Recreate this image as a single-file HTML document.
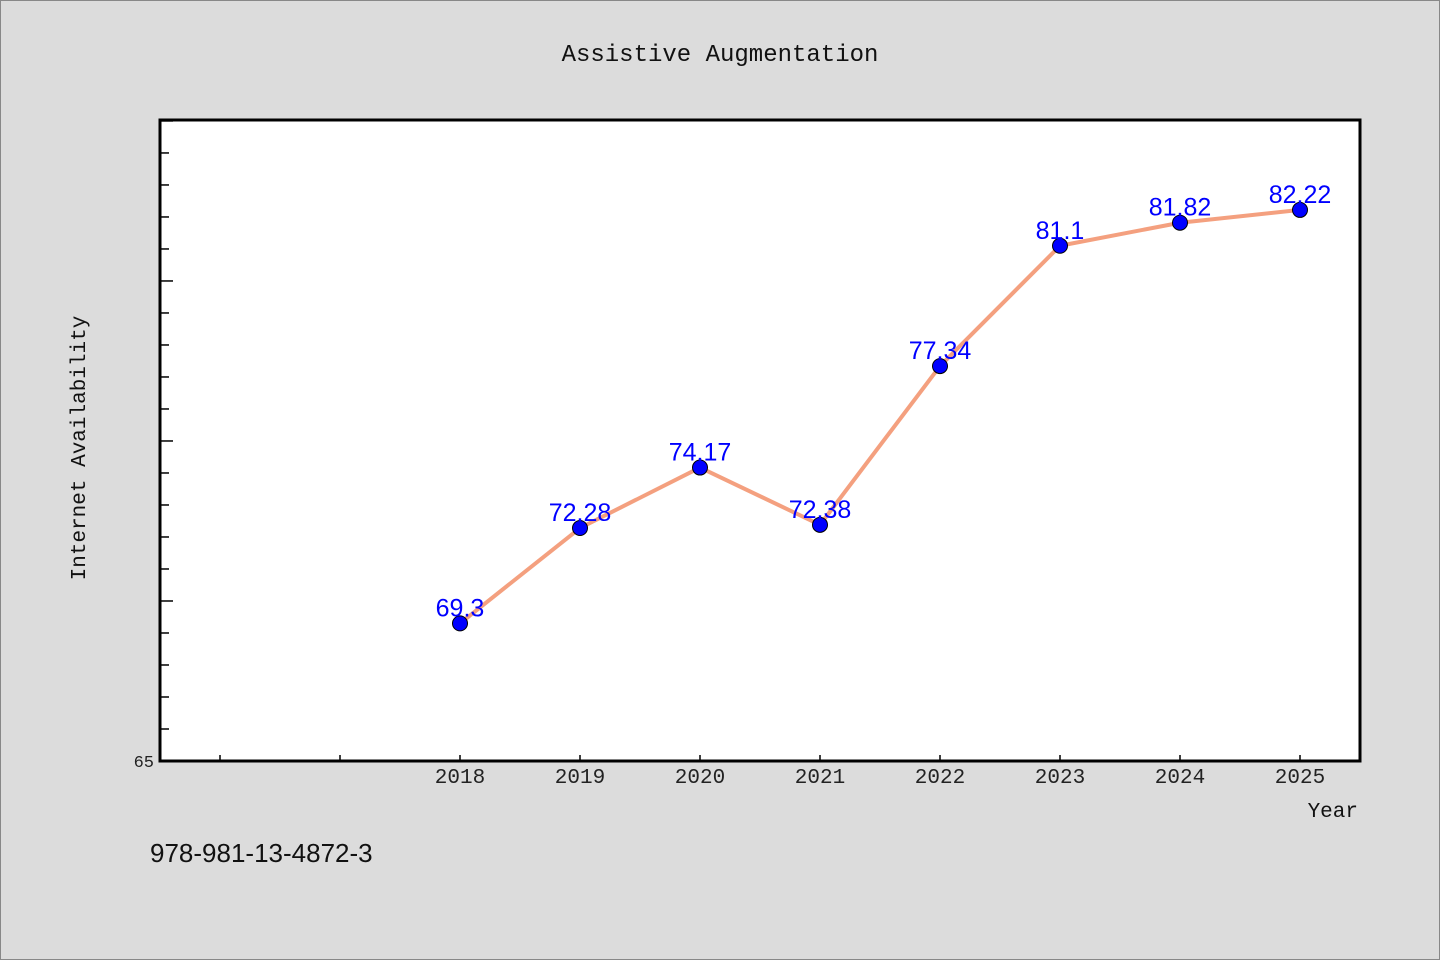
<!DOCTYPE html>
<html><head><meta charset="utf-8"><style>
body{margin:0;background:#dcdcdc;}
svg{display:block;font-family:"Liberation Mono","DejaVu Sans Mono","Noto Sans CJK SC",monospace;}
</style></head><body>
<svg id="chart" width="1440" height="960">
<rect x="0.5" y="0.5" width="1439" height="959" fill="#dcdcdc" stroke="#888"/>
<text x="720" y="61" text-anchor="middle" font-size="24" fill="#111">Assistive Augmentation</text>
<rect x="160" y="120" width="1200" height="641" fill="#fff" stroke="#000" stroke-width="3"/>
<g id="axes"></g>
<g id="marks"></g>
<text x="85" y="448" text-anchor="middle" font-size="21" fill="#111" transform="rotate(-90 85 448)">Internet Availability</text>
<text x="1358" y="817" text-anchor="end" font-size="21" fill="#111">Year</text>
<text x="150" y="862" font-size="26" fill="#111" font-family="Liberation Sans, sans-serif">978-981-13-4872-3</text>
</svg>
<script>
const years = [2018, 2019, 2020, 2021, 2022, 2023, 2024, 2025];
const values = [69.3, 72.28, 74.17, 72.38, 77.34, 81.1, 81.82, 82.22];
const valueLabels = ["69.3", "72.28", "74.17", "72.38", "77.34", "81.1", "81.82", "82.22"];
const yMin = 65, yMax = 85.03, xMin = 2015.5, xMax = 2025.5;
const L = 160, R = 1360, T = 120, B = 761;
const NS = "http://www.w3.org/2000/svg";
function sx(v){return L + (v - xMin) / (xMax - xMin) * (R - L);}
function sy(v){return B - (v - yMin) / (yMax - yMin) * (B - T);}
function mk(tag, attrs, parent){const e=document.createElementNS(NS,tag);for(const k in attrs)e.setAttribute(k,attrs[k]);parent.appendChild(e);return e;}
const axes = document.getElementById('axes'), marks = document.getElementById('marks');
for (let v = 66; v < yMax; v++) {
  const len = (v % 5 === 0) ? 13 : 9;
  const t = mk('line', {x1:L, x2:L+len, y1:sy(v), y2:sy(v), stroke:'#000', 'stroke-width':1.5}, axes);
  
  
}
const yl = mk('text', {x:L-6, y:B+6, 'text-anchor':'end', 'font-size':17, fill:'#222'}, axes);
yl.textContent = '65';


for (let yr = 2016; yr <= 2025; yr++) {
  const t = mk('line', {x1:sx(yr), x2:sx(yr), y1:B, y2:B-6, stroke:'#000', 'stroke-width':1.5}, axes);
  
  
}
years.forEach(yr => {
  const t = mk('text', {x:sx(yr), y:B+22, 'text-anchor':'middle', 'font-size':21, fill:'#222'}, axes);
  t.textContent = yr;
  
  
});
const pts = years.map((yr,i)=>sx(yr)+','+sy(values[i])).join(' ');
const line = mk('polyline', {points:pts, fill:'none', stroke:'#f4a07f', 'stroke-width':4, 'stroke-linejoin':'round'}, marks);


years.forEach((yr,i) => {
  const c = mk('circle', {cx:sx(yr), cy:sy(values[i]), r:7.5, fill:'#0000ff', stroke:'#000', 'stroke-width':1}, marks);
  
  
  const t = mk('text', {x:sx(yr), y:sy(values[i])-7, 'text-anchor':'middle', 'font-size':25, fill:'#0000ff', 'font-family':'Liberation Sans, sans-serif'}, marks);
  t.textContent = valueLabels[i];
  
  
});
</script>
</body></html>
